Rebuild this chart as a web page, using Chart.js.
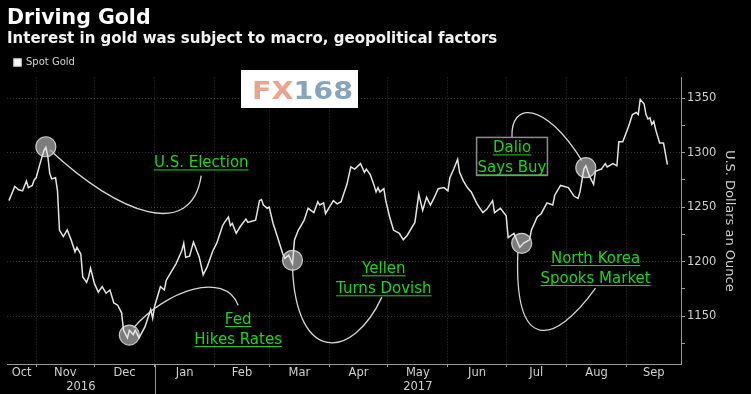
<!DOCTYPE html>
<html>
<head>
<meta charset="utf-8">
<script src="https://cdn.jsdelivr.net/npm/chart.js@4.4.1/dist/chart.umd.min.js"></script>
<style>
  html, body { margin: 0; padding: 0; background: #000; }
  #wrap { width: 751px; height: 394px; position: relative; }
</style>
</head>
<body>
<div id="wrap"><canvas id="chart"></canvas></div>
<script>
// Spot gold, USD per ounce
const dates = [
  '2016-10-18','2016-10-21','2016-10-23','2016-10-25','2016-10-27','2016-10-28','2016-10-30','2016-10-31',
  '2016-11-01','2016-11-03','2016-11-05','2016-11-06','2016-11-07','2016-11-08','2016-11-09','2016-11-11',
  '2016-11-12','2016-11-13','2016-11-15','2016-11-17','2016-11-19','2016-11-21','2016-11-22','2016-11-24',
  '2016-11-25','2016-11-27','2016-11-28','2016-11-29','2016-12-01','2016-12-03','2016-12-05','2016-12-07',
  '2016-12-09','2016-12-11','2016-12-13','2016-12-15','2016-12-16','2016-12-18','2016-12-19','2016-12-21',
  '2016-12-22','2016-12-24','2016-12-27','2016-12-30','2016-12-31','2017-01-01','2017-01-04','2017-01-06',
  '2017-01-07','2017-01-10','2017-01-12','2017-01-15','2017-01-16','2017-01-17','2017-01-19','2017-01-21',
  '2017-01-24','2017-01-26','2017-01-28','2017-01-31','2017-02-02','2017-02-05','2017-02-06','2017-02-08',
  '2017-02-09','2017-02-10','2017-02-12','2017-02-14','2017-02-17','2017-02-18','2017-02-20','2017-02-22',
  '2017-02-24','2017-02-25','2017-02-26','2017-02-28','2017-03-01','2017-03-03','2017-03-05','2017-03-08',
  '2017-03-09','2017-03-11','2017-03-13','2017-03-14','2017-03-16','2017-03-19','2017-03-21','2017-03-24',
  '2017-03-26','2017-03-27','2017-03-29','2017-03-30','2017-04-01','2017-04-03','2017-04-05','2017-04-07',
  '2017-04-10','2017-04-12','2017-04-14','2017-04-17','2017-04-19','2017-04-20','2017-04-22','2017-04-24',
  '2017-04-25','2017-04-26','2017-04-27','2017-04-29','2017-04-30','2017-05-02','2017-05-04','2017-05-07',
  '2017-05-09','2017-05-11','2017-05-13','2017-05-15','2017-05-17','2017-05-19','2017-05-21','2017-05-23',
  '2017-05-25','2017-05-27','2017-05-30','2017-06-01','2017-06-02','2017-06-04','2017-06-06','2017-06-07',
  '2017-06-09','2017-06-11','2017-06-13','2017-06-16','2017-06-19','2017-06-21','2017-06-24','2017-06-25',
  '2017-06-28','2017-07-01','2017-07-02','2017-07-05','2017-07-08','2017-07-10','2017-07-13','2017-07-14',
  '2017-07-17','2017-07-19','2017-07-22','2017-07-25','2017-07-26','2017-07-29','2017-08-02','2017-08-05',
  '2017-08-07','2017-08-08','2017-08-10','2017-08-11','2017-08-13','2017-08-15','2017-08-16','2017-08-19',
  '2017-08-21','2017-08-22','2017-08-25','2017-08-27','2017-08-28','2017-08-30','2017-09-02','2017-09-04',
  '2017-09-06','2017-09-07','2017-09-08','2017-09-10','2017-09-11','2017-09-12','2017-09-13','2017-09-14',
  '2017-09-15','2017-09-16','2017-09-18','2017-09-20','2017-09-22'
];
const prices = [
  1256, 1269, 1266, 1265, 1274, 1268, 1270, 1275,
  1277, 1290, 1302, 1305, 1297, 1281, 1276, 1277,
  1265, 1229, 1223, 1229, 1220, 1209, 1213, 1207,
  1186, 1181, 1186, 1194, 1180, 1172, 1177, 1171,
  1174, 1162, 1160, 1153, 1137, 1130, 1137, 1133,
  1137, 1130, 1140, 1156, 1148, 1159, 1177, 1174,
  1183, 1192, 1198, 1210, 1217, 1204, 1205, 1218,
  1204, 1188, 1195, 1210, 1217, 1233, 1236, 1241,
  1233, 1235, 1226, 1232, 1239, 1236, 1237, 1238,
  1256, 1257, 1252, 1249, 1250, 1235, 1224, 1207,
  1203, 1206, 1198, 1220, 1229, 1238, 1249, 1245,
  1255, 1252, 1254, 1244, 1250, 1256, 1253, 1255,
  1271, 1287, 1285, 1290, 1282, 1285, 1280, 1270,
  1264, 1268, 1264, 1267, 1256, 1241, 1229, 1226,
  1220, 1224, 1230, 1236, 1262, 1247, 1259, 1252,
  1259, 1267, 1268, 1265, 1277, 1285, 1294, 1282,
  1274, 1268, 1264, 1253, 1245, 1248, 1256, 1245,
  1249, 1242, 1222, 1226, 1213, 1217, 1220, 1229,
  1241, 1244, 1254, 1252, 1261, 1270, 1268, 1260,
  1258, 1264, 1285, 1288, 1278, 1271, 1283, 1285,
  1290, 1287, 1290, 1288, 1310, 1310, 1324, 1335,
  1337, 1335, 1349, 1345, 1335, 1331, 1332, 1326,
  1329, 1321, 1309, 1309, 1289
];

const xRange = ['2016-10-17', '2017-09-29'];
const yRange = [1106, 1369];
const yTicks = [1125, 1150, 1175, 1200, 1225, 1250, 1275, 1300, 1325, 1350];

const monthNames = ['Oct', 'Nov', 'Dec', 'Jan', 'Feb', 'Mar', 'Apr', 'May', 'Jun', 'Jul', 'Aug', 'Sep'];
const monthStarts = ['2016-10-01', '2016-11-01', '2016-12-01', '2017-01-01', '2017-02-01', '2017-03-01',
  '2017-04-01', '2017-05-01', '2017-06-01', '2017-07-01', '2017-08-01', '2017-09-01', '2017-10-01'];
const yearNames = ['2016', '2017'];
const yearStarts = ['2016-01-01', '2017-01-01', '2018-01-01'];

// callouts: text anchor, circle on the line, connector (cubic bezier points)
const notes = [
  { text: ['U.S. Election'], at: ['2017-01-25', 1286.5], dot: ['2016-11-06', 1305.5],
    curve: [['2016-11-08', 1302.7], ['2016-12-14', 1242.4], ['2017-01-20', 1219.5], ['2017-01-25', 1278.9]] },
  { text: ['Fed', 'Hikes Rates'], at: ['2017-02-13', 1142.7], dot: ['2016-12-19', 1132.6],
    curve: [['2016-12-21', 1139], ['2017-01-07', 1173.8], ['2017-02-06', 1192], ['2017-02-13', 1160]] },
  { text: ['Yellen', 'Turns Dovish'], at: ['2017-04-29', 1189.3], dot: ['2017-03-13', 1201.2],
    curve: [['2017-03-13', 1193.9], ['2017-03-15', 1105.2], ['2017-04-13', 1109.8], ['2017-04-28', 1167.4]] },
  { text: ['North Korea', 'Spooks Market'], at: ['2017-08-16', 1198.7], dot: ['2017-07-09', 1216.8],
    curve: [['2017-07-07', 1208.5], ['2017-07-05', 1114.3], ['2017-07-26', 1123.5], ['2017-08-16', 1175.6]] },
  { text: ['Dalio', 'Says Buy'], at: ['2017-07-04', 1300.3], dot: ['2017-08-11', 1286.3], box: true,
    curve: [['2017-07-04', 1313.7], ['2017-07-03', 1347.5], ['2017-07-21', 1347.5], ['2017-08-09', 1292.7]] }
];

const GREEN = '#1fd41f';
const AXIS = '#9a9a9a';
const GRID = 'rgba(255,255,255,0.2)';
const TEXT = '#cfcfcf';

// days since 1 Oct 2016
function dayOf(s) {
  const [y, m, d] = s.split('-').map(Number);
  return (Date.UTC(y, m - 1, d) - Date.UTC(2016, 9, 1)) / 864e5;
}
const xMin = dayOf(xRange[0]);
const xMax = dayOf(xRange[1]);

// label ticks centred on the visible part of each span
function spanTicks(starts, names) {
  return names.map((name, i) => {
    const a = Math.max(dayOf(starts[i]), xMin);
    const b = Math.min(dayOf(starts[i + 1]), xMax);
    return { value: (a + b) / 2, name };
  });
}

const calloutPlugin = {
  id: 'callouts',
  beforeDatasetsDraw(chart) {
    const { ctx, scales: { x, y } } = chart;
    const px = p => [x.getPixelForValue(dayOf(p[0])), y.getPixelForValue(p[1])];
    ctx.save();
    notes.forEach(n => {
      const [p0, p1, p2, p3] = n.curve.map(px);
      ctx.beginPath();
      ctx.moveTo(p0[0], p0[1]);
      ctx.bezierCurveTo(p1[0], p1[1], p2[0], p2[1], p3[0], p3[1]);
      ctx.strokeStyle = '#d6d6d6';
      ctx.lineWidth = 1.3;
      ctx.stroke();

      const [cx, cy] = px(n.dot);
      ctx.beginPath();
      ctx.arc(cx, cy, 10, 0, Math.PI * 2);
      ctx.fillStyle = 'rgba(165,165,165,0.75)';
      ctx.fill();
      ctx.strokeStyle = 'rgba(215,215,215,0.9)';
      ctx.lineWidth = 1.2;
      ctx.stroke();
    });
    ctx.restore();
  },
  afterDatasetsDraw(chart) {
    const { ctx, scales: { x, y } } = chart;
    ctx.save();
    ctx.font = '15px "DejaVu Sans"';
    ctx.textAlign = 'center';
    ctx.textBaseline = 'alphabetic';
    notes.forEach(n => {
      const tx = x.getPixelForValue(dayOf(n.at[0]));
      const ty = y.getPixelForValue(n.at[1]);
      let maxW = 0;
      n.text.forEach((line, i) => {
        const w = ctx.measureText(line).width;
        maxW = Math.max(maxW, w);
        ctx.fillStyle = GREEN;
        ctx.fillText(line, tx, ty + i * 20);
        ctx.fillRect(tx - w / 2, ty + i * 20 + 2, w, 1);
      });
      if (n.box) {
        ctx.strokeStyle = '#8c8c8c';
        ctx.lineWidth = 1.5;
        ctx.strokeRect(tx - maxW / 2 - 1, ty - 15, maxW + 2, 38);
      }
    });
    ctx.restore();
  },
  afterDraw(chart) {
    const { ctx, chartArea, scales: { x } } = chart;
    ctx.save();
    // year divider under the axis
    const xj = Math.round(x.getPixelForValue(dayOf(yearStarts[1]))) + 0.5;
    ctx.strokeStyle = AXIS;
    ctx.lineWidth = 1;
    ctx.beginPath();
    ctx.moveTo(xj, chartArea.bottom);
    ctx.lineTo(xj, chart.height);
    ctx.stroke();

    // FX168 watermark
    ctx.fillStyle = '#fff';
    ctx.fillRect(241, 70, 117, 38);
    ctx.font = 'bold 24px "DejaVu Sans"';
    ctx.textBaseline = 'alphabetic';
    const wFX = ctx.measureText('FX').width;
    const wAll = ctx.measureText('FX168').width;
    ctx.translate(252, 99);
    ctx.scale(101 / wAll, 1);
    ctx.fillStyle = '#eaa48f';
    ctx.fillText('FX', 0, 0);
    ctx.fillStyle = '#86a5bd';
    ctx.fillText('168', wFX, 0);
    ctx.restore();
  }
};

Chart.defaults.font.family = '"DejaVu Sans"';
Chart.defaults.color = TEXT;

new Chart(document.getElementById('chart'), {
  type: 'line',
  data: {
    datasets: [{
      label: 'Spot Gold',
      data: dates.map((d, i) => ({ x: dayOf(d), y: prices[i] })),
      borderColor: '#e4e4e4',
      backgroundColor: '#ffffff',
      borderWidth: 1.5,
      pointRadius: 0,
      tension: 0
    }]
  },
  options: {
    responsive: true,
    maintainAspectRatio: false,
    animation: false,
    layout: { padding: { left: 7, right: 0, top: 0, bottom: 0 } },
    plugins: {
      title: {
        display: true, align: 'start', text: 'Driving Gold', color: '#ffffff',
        font: { size: 20.5, weight: 'bold', lineHeight: 1.2 }, padding: { top: 6, bottom: 0 }
      },
      subtitle: {
        display: true, align: 'start', text: 'Interest in gold was subject to macro, geopolitical factors',
        color: '#f2f2f2', font: { size: 15, weight: 'bold', lineHeight: 1.2 }, padding: { top: 0, bottom: 2 }
      },
      legend: {
        display: true, align: 'start',
        labels: { color: TEXT, font: { size: 10 }, boxWidth: 7, boxHeight: 7, padding: 7 }
      },
      tooltip: { enabled: false }
    },
    scales: {
      x: {
        type: 'linear', position: 'bottom', min: xMin, max: xMax,
        afterBuildTicks: s => {
          const bounds = monthStarts.map(dayOf).filter(v => v > xMin && v < xMax).map(v => ({ value: v }));
          s.ticks = bounds.concat(spanTicks(monthStarts, monthNames)).sort((a, b) => a.value - b.value);
        },
        afterFit: s => { s.height = 16; },
        ticks: {
          autoSkip: false, maxRotation: 0, padding: 0, color: TEXT,
          font: { size: 11.5, lineHeight: 1 },
          callback: (v, i, t) => t[i].name || ''
        },
        grid: {
          color: c => (c.tick && !c.tick.name ? GRID : 'transparent'),
          tickColor: c => (c.tick && !c.tick.name ? AXIS : 'transparent'),
          tickLength: 3, lineWidth: 1
        },
        border: { display: true, color: AXIS, width: 1, dash: [1, 2] }
      },
      x2: {
        type: 'linear', position: 'bottom', min: xMin, max: xMax,
        afterBuildTicks: s => { s.ticks = spanTicks(yearStarts, yearNames); },
        afterFit: s => { s.height = 14; },
        ticks: {
          autoSkip: false, maxRotation: 0, padding: 1, color: TEXT,
          font: { size: 11.5, lineHeight: 1 },
          callback: (v, i, t) => t[i].name
        },
        grid: { display: false, drawTicks: false },
        border: { display: false }
      },
      y: {
        position: 'right', min: yRange[0], max: yRange[1],
        afterBuildTicks: s => { s.ticks = yTicks.map(v => ({ value: v })); },
        afterFit: s => { s.width = 70; },
        ticks: {
          padding: 2, color: TEXT, font: { size: 11.5 },
          callback: v => (v % 50 === 0 ? v : '')
        },
        grid: {
          color: c => (c.tick && c.tick.value % 50 === 0 ? GRID : 'transparent'),
          tickColor: AXIS, tickLength: 4
        },
        border: { display: true, color: AXIS, width: 1, dash: [1, 2] },
        title: {
          display: true, text: 'U.S. Dollars an Ounce', color: TEXT,
          font: { size: 13, lineHeight: 1.2 }, padding: { top: 14, bottom: 0 }
        }
      }
    }
  },
  plugins: [calloutPlugin]
});
</script>
</body>
</html>
